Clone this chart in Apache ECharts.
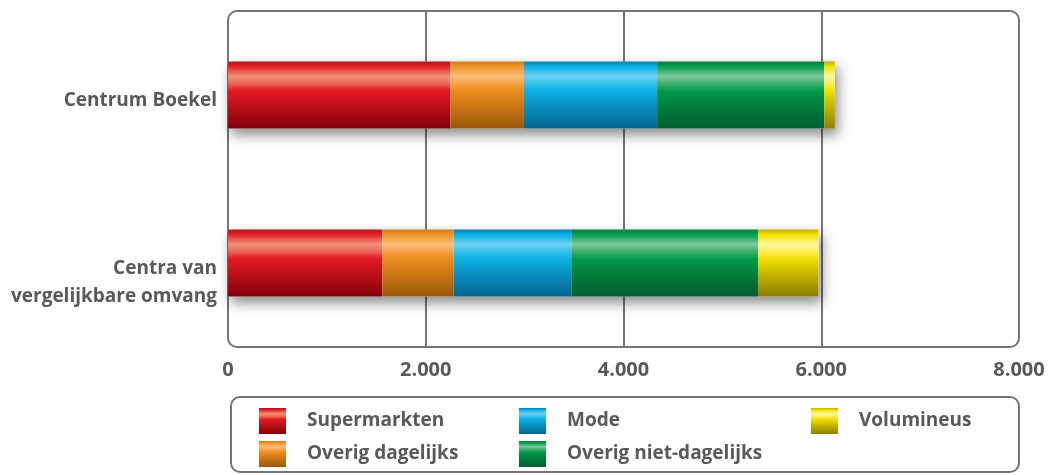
<!DOCTYPE html>
<html>
<head>
<meta charset="utf-8">
<script src="https://cdn.jsdelivr.net/npm/echarts@6/dist/echarts.min.js"></script>
<style>
html,body{margin:0;padding:0;background:#fff;}
#chart{width:1048px;height:475px;}
</style>
</head>
<body>
<div id="chart"></div>
<script>
// ---- data ----
const categories = ['Centrum Boekel', 'Centra van\nvergelijkbare omvang'];
const seriesNames = ['Supermarkten', 'Overig dagelijks', 'Mode', 'Overig niet-dagelijks', 'Volumineus'];
const supermarkten = [2250, 1562];
const overigDagelijks = [743, 721];
const mode = [1347, 1189];
const overigNietDagelijks = [1690, 1888];
const volumineus = [108, 613];
const xTicks = [0, 2000, 4000, 6000, 8000];

const values = [supermarkten, overigDagelijks, mode, overigNietDagelijks, volumineus];
const totals = categories.map((c, i) => values.reduce((s, arr) => s + arr[i], 0));

function grad(stops) {
  return new echarts.graphic.LinearGradient(0, 0, 0, 1,
    stops.map((c, i) => ({ offset: [0, 0.08, 0.22, 0.32, 0.44, 0.72, 1][i], color: c })));
}
const palette = [
  grad(['#b3121b', '#e3242a', '#f39078', '#ee6a58', '#e0191f', '#b30f17', '#820008']),
  grad(['#d07a18', '#f0962a', '#fbbd7a', '#f6a54e', '#eb8b1c', '#c47214', '#985808']),
  grad(['#0a7fb0', '#08b2e6', '#70d0f4', '#3cc2ef', '#0bb0e4', '#0988b8', '#05668e']),
  grad(['#087a3c', '#07a050', '#7ec89c', '#44b070', '#03984a', '#017838', '#005e2e']),
  grad(['#bdae00', '#f3e200', '#fff49c', '#fff060', '#f0de00', '#bcac00', '#8c8000'])
];

const textColor = '#58595b';
const fontFamily = '"Open Sans", sans-serif';

function fmt(v) { return String(v).replace(/\B(?=(\d{3})+(?!\d))/g, '.'); }

const chart = echarts.init(document.getElementById('chart'));

const series = [{
  name: 'schaduw',
  type: 'bar',
  data: totals,
  barWidth: '40%',
  barGap: '-100%',
  silent: true,
  z: 1,
  itemStyle: {
    color: '#ffffff',
    shadowColor: 'rgba(0,0,0,0.45)',
    shadowBlur: 12,
    shadowOffsetX: 3,
    shadowOffsetY: 6
  }
}].concat(seriesNames.map((name, k) => ({
  name: name,
  type: 'bar',
  stack: 'totaal',
  data: values[k],
  barWidth: '40%',
  barGap: '-100%',
  z: 3,
  itemStyle: { color: palette[k] }
})));

const legendCommon = {
  orient: 'vertical',
  top: 408,
  padding: 0,
  itemWidth: 27,
  itemHeight: 26,
  itemGap: 7,
  icon: 'rect',
  selectedMode: false,
  itemStyle: { shadowBlur: 0, shadowColor: 'transparent' },
  textStyle: { color: textColor, fontFamily: fontFamily, fontWeight: 700, fontSize: 19, padding: [0, 0, 0, 16] }
};

chart.setOption({
  animation: false,
  grid: { left: 228, right: 29, top: 11, bottom: 128, containLabel: false },
  xAxis: {
    type: 'value',
    min: xTicks[0],
    max: xTicks[xTicks.length - 1],
    interval: xTicks[1] - xTicks[0],
    axisLine: { show: false },
    axisTick: { show: false },
    splitLine: { show: true, lineStyle: { color: ['rgba(0,0,0,0)', '#757575', '#757575', '#757575', 'rgba(0,0,0,0)'], width: 2 } },
    axisLabel: {
      margin: 13,
      color: textColor, fontFamily: fontFamily, fontWeight: 700, fontSize: 20,
      formatter: fmt
    }
  },
  yAxis: {
    type: 'category',
    inverse: true,
    data: categories,
    axisLine: { show: false },
    axisTick: { show: false },
    splitLine: { show: false },
    axisLabel: {
      margin: 11,
      color: textColor, fontFamily: fontFamily, fontWeight: 700, fontSize: 19,
      lineHeight: 28, align: 'right', verticalAlign: 'top',
      padding: [-8, 0, 0, 0]
    }
  },
  legend: [
    Object.assign({}, legendCommon, { left: 259, data: [seriesNames[0], seriesNames[1]] }),
    Object.assign({}, legendCommon, { left: 519, data: [seriesNames[2], seriesNames[3]] }),
    Object.assign({}, legendCommon, { left: 811, data: [seriesNames[4]] })
  ],
  graphic: [
    { type: 'rect', z: 0, silent: true,
      shape: { x: 228, y: 11, width: 791, height: 336, r: 9 },
      style: { fill: 'none', stroke: '#757575', lineWidth: 2 } },
    { type: 'rect', z: 0, silent: true,
      shape: { x: 231, y: 397, width: 788, height: 75, r: 9 },
      style: { fill: 'none', stroke: '#757575', lineWidth: 2 } }
  ],
  series: series
});
</script>
</body>
</html>
